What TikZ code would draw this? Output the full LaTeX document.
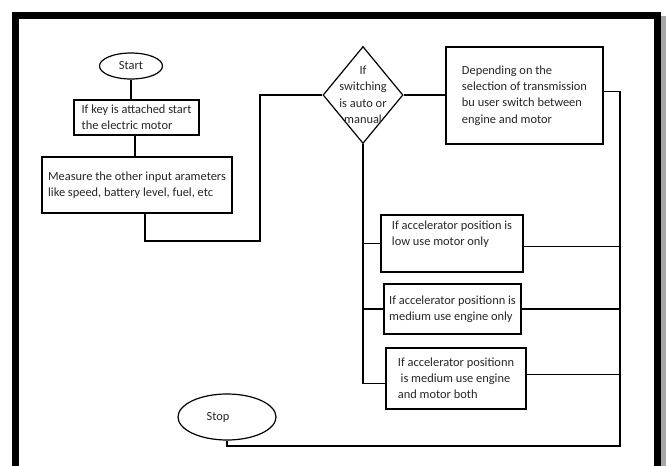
\documentclass[tikz,border=0pt]{standalone}
\usepackage{fontspec}
\setmainfont{Carlito}
\usetikzlibrary{shapes.geometric}
\begin{document}
\begin{tikzpicture}[x=1pt,y=-1pt,line width=1.2pt,
  txt/.style={text=black!85,font=\fontsize{12.4}{16.2}\selectfont},
  box/.style={draw,txt,align=left,inner sep=0pt,rectangle},
  term/.style={draw,txt,ellipse,inner sep=0pt},
  dia/.style={draw,diamond,inner sep=0pt}]
\useasboundingbox (0,0) rectangle (667,466);
\clip (0,0) rectangle (667,466);
\fill[white] (0,0) rectangle (667,466);
% frame with shadow
\fill[black!35] (660,16) rectangle (666,480);
\draw[line width=7pt] (15.5,15.5) rectangle (657.5,490);
% nodes
\node[term,minimum width=63,minimum height=26] (start) at (131,66) {Start};
\node[box,minimum width=125,minimum height=35] (b1) at (136.5,117.5) {If key is attached start\\the electric motor};
\node[box,minimum width=190,minimum height=56] (b2) at (137,185) {Measure the other input arameters\\like speed, battery level, fuel, etc};
\node[dia,minimum width=80,minimum height=97,
  label={[txt,align=center,font=\fontsize{12.4}{16.5}\selectfont]center:If\\switching\\is auto or\\manual}] (d) at (363,95) {};
\node[box,minimum width=157,minimum height=97] (b3) at (524.5,95.5) {Depending on the\\selection of transmission\\bu user switch between\\engine and motor};
\node[box,minimum width=142,minimum height=57] (b4) at (452,243.5) {If accelerator position is\\low use motor only\\[4pt]};
\node[box,minimum width=137,minimum height=50] (b5) at (452.5,309) {If accelerator positionn is\\medium use engine only};
\node[box,minimum width=140,minimum height=61] (b6) at (456,378.5) {If accelerator positionn\\\ is medium use engine\\and motor both};
\node[term,minimum width=98,minimum height=46] (stop) at (227,417) {Stop\hspace*{18pt}};
\coordinate (c1) at (260,241);
\coordinate (r) at (620,446);
% connectors
\draw (start.south) -- (start.south |- b1.north);
\draw ([xshift=-1.5]b1.south) -- ([xshift=-1.5]b1.south |- b2.north);
\draw ([xshift=8]b2.south) |- (c1) |- (d.west);
\draw (d.east) -- (d.east -| b3.west);
\draw ([yshift=4]b3.east) -| (r) -| (stop.south);
\draw (d.south) |- ([yshift=-5]b6.west);
\draw (d.south |- b4.west) -- (b4.west);
\draw (d.south |- b5.west) -- (b5.west);
\draw ([yshift=-3]b4.east) -- ([yshift=-3]b4.east -| r);
\draw (b5.east) -- (b5.east -| r);
\draw ([yshift=4]b6.east) -- ([yshift=4]b6.east -| r);
\end{tikzpicture}
\end{document}
